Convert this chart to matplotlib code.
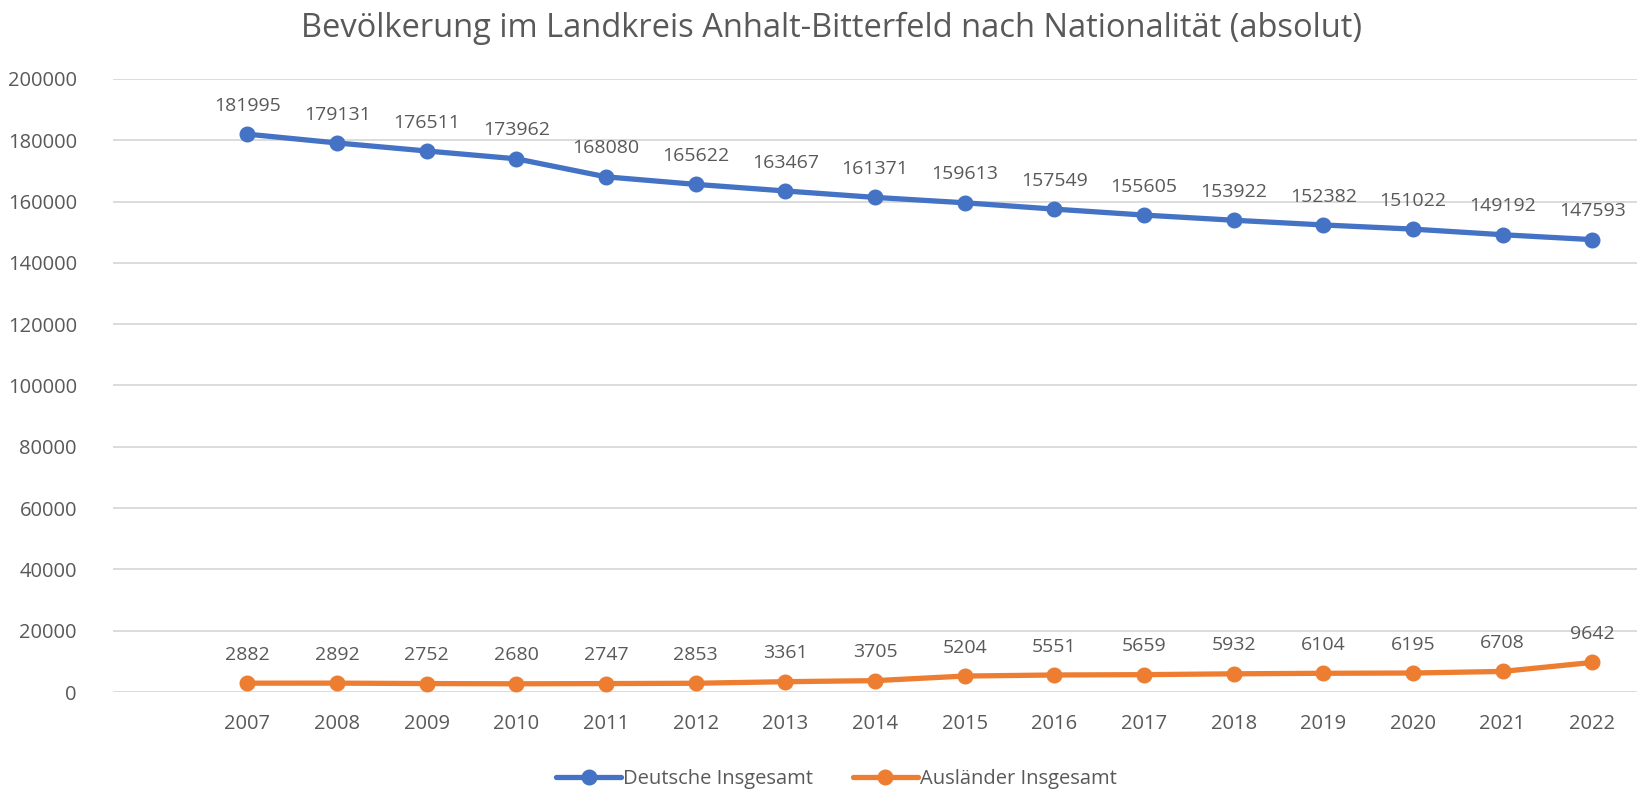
import matplotlib
matplotlib.use("Agg")
import matplotlib.pyplot as plt

years = ["", "2007", "2008", "2009", "2010", "2011", "2012", "2013", "2014",
         "2015", "2016", "2017", "2018", "2019", "2020", "2021", "2022"]
deutsche = [181995, 179131, 176511, 173962, 168080, 165622, 163467, 161371,
            159613, 157549, 155605, 153922, 152382, 151022, 149192, 147593]
auslaender = [2882, 2892, 2752, 2680, 2747, 2853, 3361, 3705,
              5204, 5551, 5659, 5932, 6104, 6195, 6708, 9642]
yticks = list(range(0, 200001, 20000))

txt = "#595959"
plt.rcParams['font.family'] = ['Open Sans', 'DejaVu Sans']

fig = plt.figure(figsize=(16.37, 7.91), dpi=100)
ax = fig.add_axes([113/1637, 1-692/791, (1637-113)/1637, (692-79)/791])

x = list(range(1, len(years)))
ax.plot(x, deutsche, color="#4472C4", lw=3.8, marker="o", ms=10.5,
        label="Deutsche Insgesamt", solid_capstyle="round")
ax.plot(x, auslaender, color="#ED7D31", lw=3.8, marker="o", ms=10.5,
        label="Ausländer Insgesamt", solid_capstyle="round")

for xi, v in zip(x, deutsche):
    ax.annotate(str(v), (xi, v), xytext=(0, 14), textcoords="offset points",
                ha="center", va="bottom", fontsize=14, color=txt)
for xi, v in zip(x, auslaender):
    ax.annotate(str(v), (xi, v), xytext=(0, 14), textcoords="offset points",
                ha="center", va="bottom", fontsize=14, color=txt)

ax.set_xlim(-0.5, len(years) - 0.5)
ax.set_ylim(0, 200000)
ax.set_xticks(range(len(years)))
ax.set_xticklabels(years)
ax.set_yticks(yticks)
ax.set_yticklabels([str(t) for t in yticks])
ax.tick_params(length=0, labelsize=14.5, colors=txt)
ax.tick_params(axis="x", pad=16)
ax.tick_params(axis="y", pad=26)
ax.grid(axis="y", color="#D9D9D9", lw=1.3)
ax.set_axisbelow(True)
for s in ax.spines.values():
    s.set_visible(False)

fig.suptitle("Bevölkerung im Landkreis Anhalt-Bitterfeld nach Nationalität (absolut)",
             x=0.508, y=0.985, fontsize=23.5, color=txt)
fig.legend(loc="lower center", ncol=2, frameon=False, fontsize=14.5,
           bbox_to_anchor=(0.511, -0.02), handlelength=3.2, labelcolor=txt,
           columnspacing=2.0, handletextpad=0.1)

fig.savefig("out.png", dpi=100)
